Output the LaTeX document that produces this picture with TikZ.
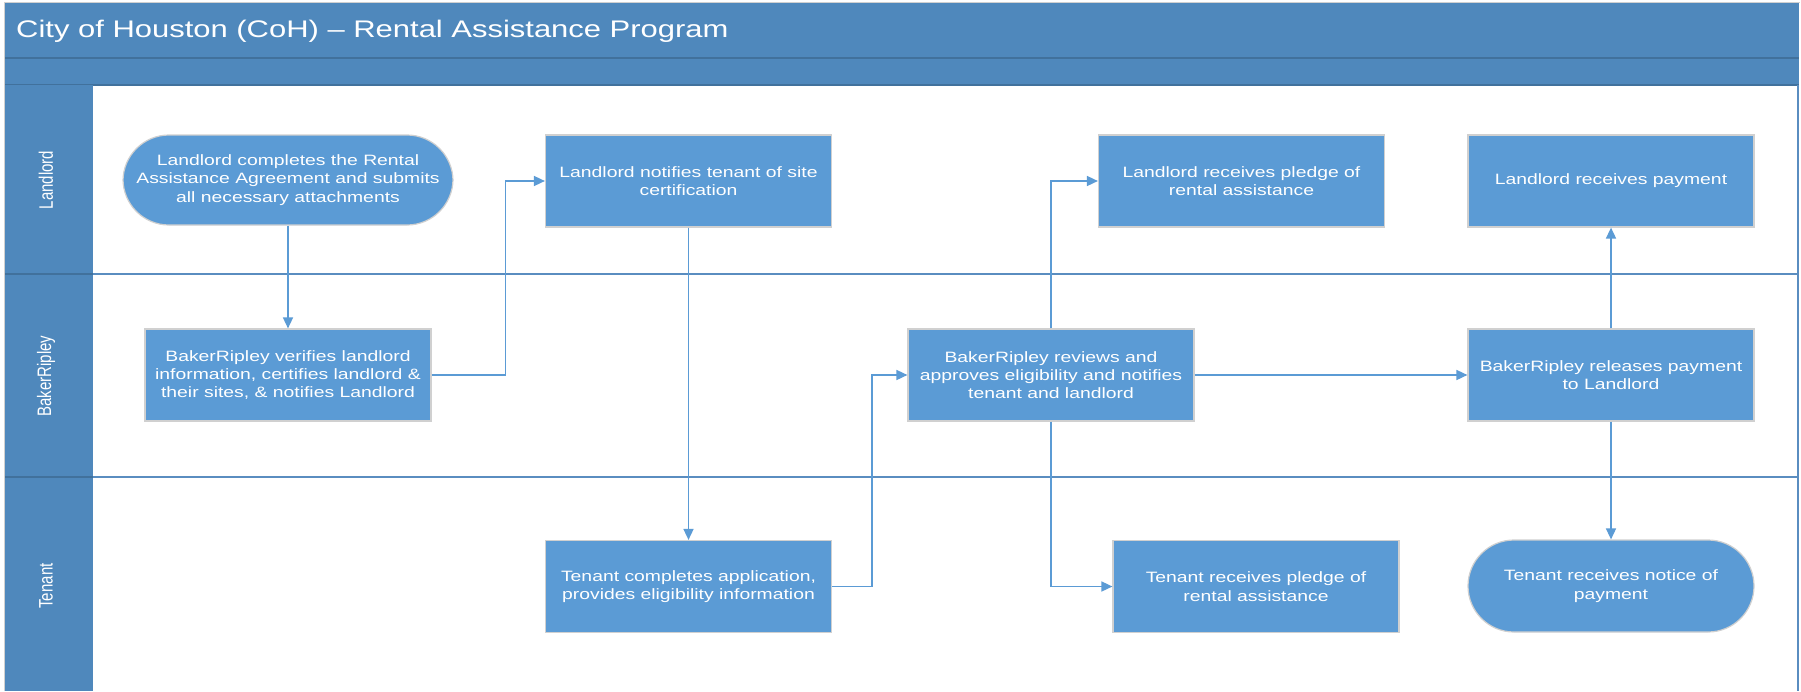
\documentclass[tikz,border=0pt]{standalone}
\usepackage{fontspec}
\setmainfont[FakeStretch=1.29]{Liberation Sans}
\newfontfamily\lanefont{Liberation Sans}
\usetikzlibrary{arrows.meta}
\definecolor{band}{HTML}{4F88BC}
\definecolor{bandline}{HTML}{41719C}
\definecolor{boxfill}{HTML}{5B9BD5}
\definecolor{flowc}{HTML}{5B9BD5}
\definecolor{laneline}{HTML}{5A8DC0}
\definecolor{boxedge}{HTML}{D0D0D0}
\tikzset{
 procbox/.style={draw=boxedge, line width=1.2pt, fill=boxfill, text=white,
   minimum width=286pt, minimum height=92pt, align=center,
   font=\fontsize{15}{18.3}\selectfont, inner sep=0pt},
 termbox/.style={procbox, rounded corners=46pt},
 flow/.style={draw=flowc, line width=1.6pt, -{Triangle[length=11pt,width=10pt]}},
 lanelabel/.style={rotate=90, text=white, inner sep=0pt},
 titletext/.style={text=white, font=\fontsize{24}{28}\selectfont, inner sep=0pt},
}
\begin{document}
\begin{tikzpicture}[x=1pt,y=-1pt]
\useasboundingbox (0,0) rectangle (1801,691);
\fill[white] (0,0) rectangle (1801,691);
% bands and frame
\fill[band] (5,3) rectangle (1799,85);
\draw[bandline, line width=1.2pt] (5,58) -- (1799,58);
\draw[bandline, line width=1.2pt] (5,85) -- (1799,85);
\fill[band] (5,85) rectangle (93,691);
\draw[laneline, line width=2.5pt] (5,274) -- (1799,274);
\draw[laneline, line width=2.5pt] (5,477) -- (1799,477);
\draw[bandline, line width=2.5pt] (5,274) -- (93,274);
\draw[bandline, line width=2.5pt] (5,477) -- (93,477);
\draw[laneline, line width=2pt] (1798,85) -- (1798,691);
\draw[boxedge, line width=1pt] (4.5,691) -- (4.5,2.5) -- (1799.5,2.5);
% title and lane labels
\node[titletext, anchor=west] (title) at (16,31) {City of Houston (CoH) – Rental Assistance Program};
\node[lanelabel] (laneL) at (46,180) {\scalebox{1}[1.3]{\lanefont\fontsize{15}{18}\selectfont Landlord}};
\node[lanelabel] (laneB) at (46,376) {\scalebox{1}[1.3]{\lanefont\fontsize{15}{18}\selectfont BakerRipley}};
\node[lanelabel] (laneT) at (46,586) {\scalebox{1}[1.3]{\lanefont\fontsize{15}{18}\selectfont Tenant}};
% nodes
\node[termbox, minimum width=330pt, minimum height=90pt] (l1) at (288,180) {Landlord completes the Rental\\Assistance Agreement and submits\\all necessary attachments};
\node[procbox] (l2) at (688.5,181) {Landlord notifies tenant of site\\certification};
\node[procbox] (l3) at (1241.5,181) {Landlord receives pledge of\\rental assistance};
\node[procbox] (l4) at (1611,181) {Landlord receives payment};
\node[procbox] (b1) at (288,375) {BakerRipley verifies landlord\\information, certifies landlord \&\\their sites, \& notifies Landlord};
\node[procbox] (b2) at (1051,375) {BakerRipley reviews and\\approves eligibility and notifies\\tenant and landlord};
\node[procbox] (b3) at (1611,375) {BakerRipley releases payment\\to Landlord};
\node[procbox] (t1) at (688.5,586.5) {Tenant completes application,\\provides eligibility information};
\node[procbox] (t2) at (1256,586.5) {Tenant receives pledge of\\rental assistance};
\node[termbox] (t3) at (1611,586) {Tenant receives notice of\\payment};
% connectors
\draw[flow] (l1.south) -- (b1.north);
\draw[flow] (b1.east) -- ++(74,0) |- (l2.west);
\draw[flow] (l2.south) -- (t1.north);
\draw[flow] (t1.east) -- ++(40,0) |- (b2.west);
\draw[flow] (b2.north) |- (l3.west);
\draw[flow] (b2.south) |- (t2.west);
\draw[flow] (b2.east) -- (b3.west);
\draw[flow] (b3.north) -- (l4.south);
\draw[flow] (b3.south) -- (t3.north);
\end{tikzpicture}
\end{document}
